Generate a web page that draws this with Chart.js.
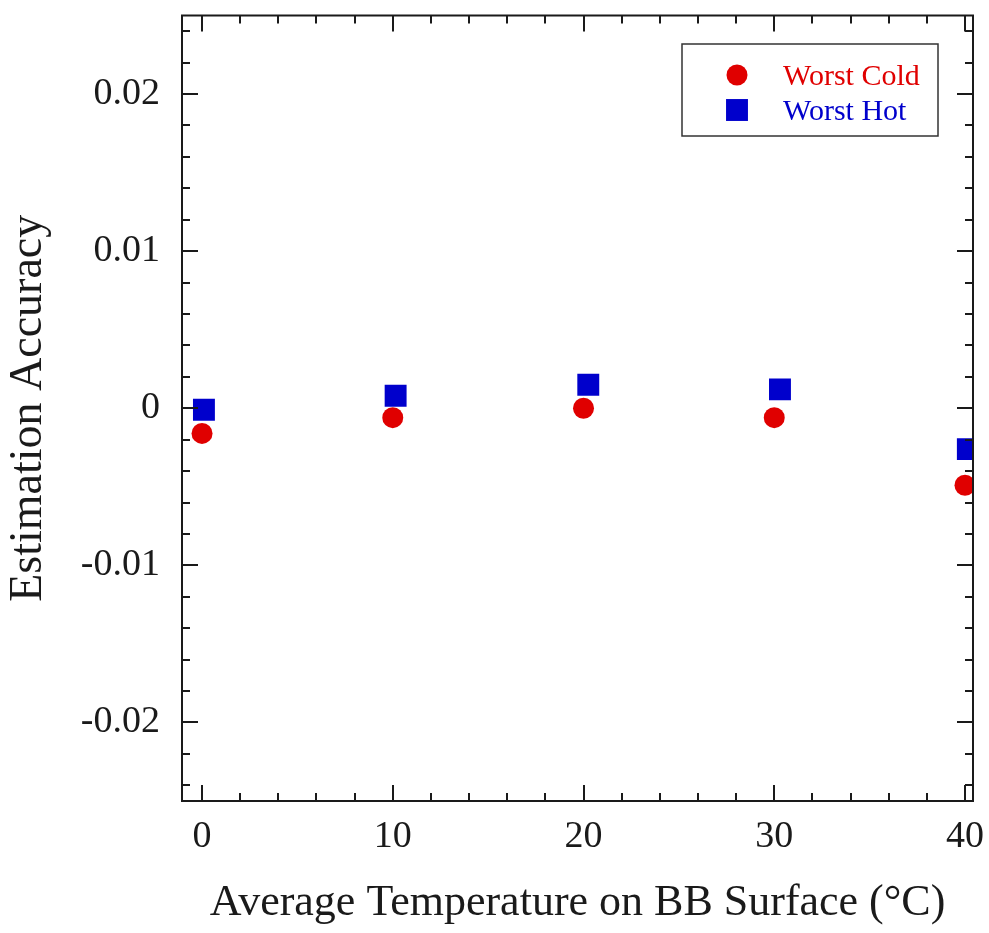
<!DOCTYPE html>
<html>
<head>
<meta charset="utf-8">
<script src="https://cdn.jsdelivr.net/npm/chart.js@4/dist/chart.umd.min.js"></script>
<style>
html,body{margin:0;padding:0;background:#fff;}
#c{display:block;}
</style>
</head>
<body>
<canvas id="c" width="989" height="933"></canvas>
<script>
// ---- data ----
const seriesNames = ['Worst Cold', 'Worst Hot'];
const coldX = [0, 10, 20, 30, 40];
const coldY = [-0.0016, -0.0006, 0.0000, -0.0006, -0.0049];
const hotX = [0.1, 10.15, 20.25, 30.3, 40.15];
const hotY = [-0.0001, 0.0008, 0.0015, 0.0012, -0.0026];
const xTickValues = [0, 10, 20, 30, 40];
const yTickLabels = ['-0.02', '-0.01', '0', '0.01', '0.02'];
const xTitle = 'Average Temperature on BB Surface (\u00B0C)';
const yTitle = 'Estimation Accuracy';

const FONT = "'Liberation Serif', 'Times New Roman', serif";
const INK = '#1a1a1a';
const RED = '#e00000';
const BLUE = '#0000cc';

const toPts = (xs, ys) => xs.map((x, i) => ({x: x, y: ys[i]}));

const framePlugin = {
  id: 'frameTicks',
  afterDraw(chart) {
    const ctx = chart.ctx;
    const a = chart.chartArea;
    const xs = chart.scales.x, ys = chart.scales.y;
    ctx.save();
    ctx.strokeStyle = INK;
    ctx.lineWidth = 2;
    ctx.strokeRect(a.left, a.top, a.right - a.left, a.bottom - a.top);
    const major = 16, minor = 8;
    ctx.beginPath();
    for (let v = 0; v <= 40.0001; v += 2) {
      const px = Math.round(xs.getPixelForValue(v));
      const len = (Math.abs(v % 10) < 1e-6) ? major : minor;
      ctx.moveTo(px, a.bottom); ctx.lineTo(px, a.bottom - len);
      ctx.moveTo(px, a.top); ctx.lineTo(px, a.top + len);
    }
    for (let k = -12; k <= 12; k++) {
      const v = k * 0.002;
      const py = Math.round(ys.getPixelForValue(v));
      const len = (k % 5 === 0) ? major : minor;
      ctx.moveTo(a.left, py); ctx.lineTo(a.left + len, py);
      ctx.moveTo(a.right, py); ctx.lineTo(a.right - len, py);
    }
    ctx.stroke();

    // legend box
    const lx = 682, ly = 44, lw = 256, lh = 92;
    ctx.lineWidth = 1.5;
    ctx.strokeStyle = '#333';
    ctx.strokeRect(lx, ly, lw, lh);
    const rows = [75, 110];
    chart.data.datasets.forEach((ds, i) => {
      const cy = rows[i];
      ctx.fillStyle = ds.backgroundColor;
      ctx.beginPath();
      if (ds.pointStyle === 'circle') {
        ctx.arc(737, cy, ds.pointRadius, 0, Math.PI * 2);
      } else {
        const s = ds.pointRadius * Math.SQRT1_2;
        ctx.rect(737 - s, cy - s, 2 * s, 2 * s);
      }
      ctx.fill();
      ctx.font = '30px ' + FONT;
      ctx.textBaseline = 'alphabetic';
      ctx.textAlign = 'left';
      ctx.fillText(ds.label, 783, cy + 10);
    });
    ctx.restore();
  }
};

new Chart(document.getElementById('c'), {
  type: 'scatter',
  data: {
    datasets: [
      {label: seriesNames[0], data: toPts(coldX, coldY), pointStyle: 'circle', pointRadius: 10.5,
       backgroundColor: RED, borderColor: RED, borderWidth: 0},
      {label: seriesNames[1], data: toPts(hotX, hotY), pointStyle: 'rect', pointRadius: 15.5,
       backgroundColor: BLUE, borderColor: BLUE, borderWidth: 0}
    ]
  },
  options: {
    responsive: false,
    animation: false,
    devicePixelRatio: 1,
    layout: {padding: {left: 0, right: 16, top: 10, bottom: 0}},
    plugins: {legend: {display: false}, tooltip: {enabled: false}},
    scales: {
      x: {
        type: 'linear', min: -1.05, max: 40.42,
        grid: {display: false, drawTicks: false},
        border: {display: false},
        afterFit: s => { s.height = 132; s.paddingLeft = 0; s.paddingRight = 0; },
        afterBuildTicks: s => { s.ticks = xTickValues.map(v => ({value: v})); },
        ticks: {
          font: {family: FONT, size: 38}, color: INK, padding: 13,
          maxRotation: 0, autoSkip: false,
          callback: v => String(v)
        },
        title: {display: true, text: xTitle, color: INK,
          font: {family: FONT, size: 44}, padding: {top: 0, bottom: 3}}
      },
      y: {
        type: 'linear', min: -0.025, max: 0.025,
        grid: {display: false, drawTicks: false},
        border: {display: false},
        afterFit: s => { s.width = 182; s.paddingTop = 0; s.paddingBottom = 0; },
        afterBuildTicks: s => { s.ticks = yTickLabels.map(t => ({value: parseFloat(t)})); },
        ticks: {
          font: {family: FONT, size: 38}, color: INK, padding: 22,
          autoSkip: false,
          callback: (v, i) => yTickLabels[i]
        },
        title: {display: true, text: yTitle, color: INK,
          font: {family: FONT, size: 46}, padding: {top: 1, bottom: 0}}
      }
    }
  },
  plugins: [framePlugin]
});
</script>
</body>
</html>
